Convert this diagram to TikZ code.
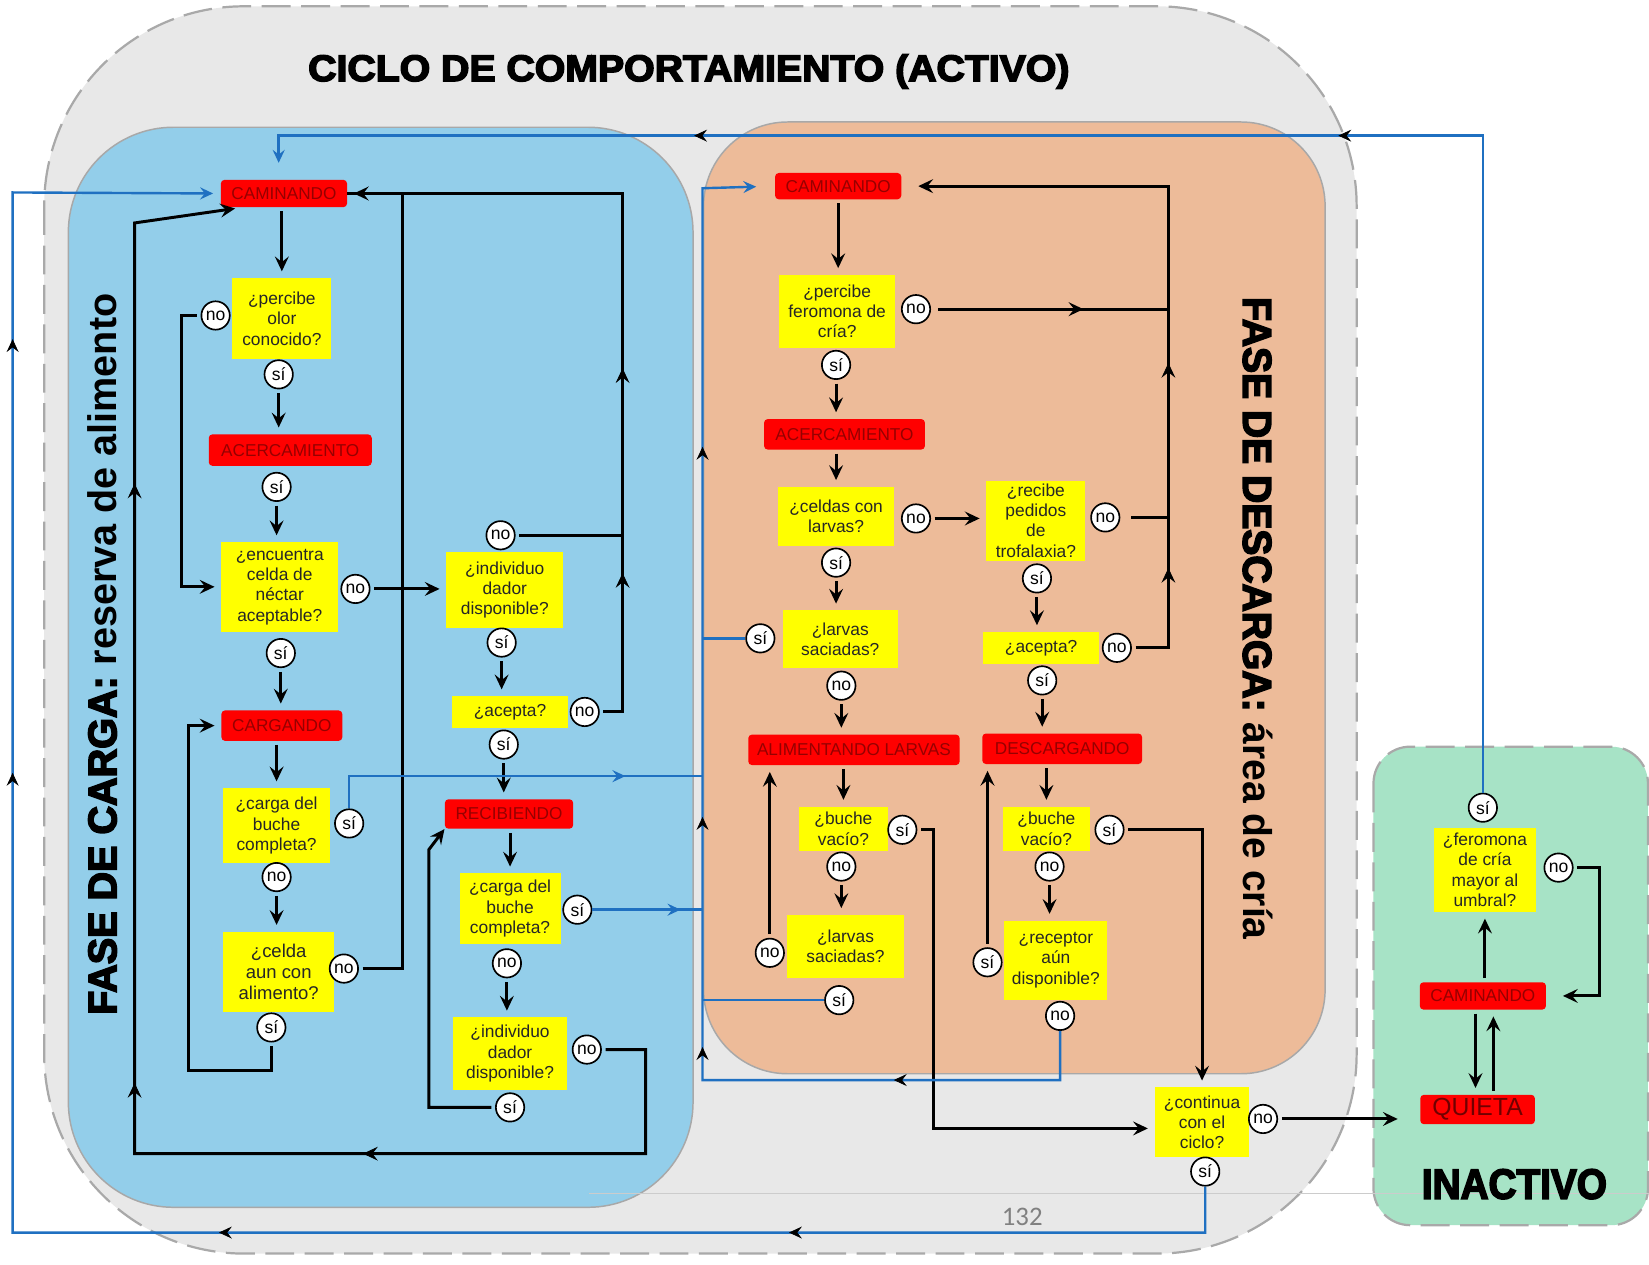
\documentclass[tikz,border=0pt]{standalone}
\usepackage{fontspec}
\usepackage{graphicx}
\setmainfont{Liberation Sans}
\newfontfamily\heavyfont{Liberation Sans}[FakeBold=4, BoldFeatures={FakeBold=4}]
\newfontfamily\pagefont{Carlito}
\usetikzlibrary{arrows.meta,decorations.markings,calc}

\definecolor{cyclegray}{HTML}{E8E8E8}
\definecolor{dashgray}{HTML}{A9A9A9}
\definecolor{panelborder}{HTML}{A8A8A8}
\definecolor{cargablue}{HTML}{93CEEA}
\definecolor{descargaorange}{HTML}{EDBB99}
\definecolor{inactgreen}{HTML}{A7E3C6}
\definecolor{statered}{HTML}{FF0000}
\definecolor{statetext}{HTML}{960000}
\definecolor{quietatext}{HTML}{700000}
\definecolor{qyellow}{HTML}{FFFF00}
\definecolor{qtext}{HTML}{262626}
\definecolor{lineblue}{HTML}{1F70C1}

\tikzset{
  kTip/.tip={Stealth[length=8pt,width=7.5pt,inset=3pt]},
  bTip/.tip={Stealth[length=7pt,width=6.5pt,inset=2.5pt]},
  st/.style 2 args={fill=statered, rounded corners=2pt, text=statetext,
    font=\fontsize{9.3}{10}\selectfont, inner sep=0pt,
    minimum width=#1*0.02cm, minimum height=#2*0.02cm},
  qq/.style 2 args={fill=qyellow, text=qtext, align=center,
    font=\fontsize{9.4}{11}\selectfont, inner sep=0pt,
    minimum width=#1*0.02cm, minimum height=#2*0.02cm},
  ans/.style={circle, draw=black, line width=0.9pt, fill=white, inner sep=0pt,
    minimum size=0.54cm, font=\fontsize{9.5}{10}\selectfont},
  ln/.style={line width=1.6pt, black, shorten <=2pt},
  arr/.style={ln, -{kTip}, shorten >=3.5pt},
  bl/.style={line width=1.3pt, lineblue},
  bla/.style={bl, -{bTip}, shorten >=4pt},
  mk/.style={decorate, decoration={markings,
    mark=at position #1 with {\arrow{kTip}}}},
  mkk/.style 2 args={decorate, decoration={markings,
    mark=at position #1 with {\arrow{kTip}},
    mark=at position #2 with {\arrow{kTip}}}},
  mkb/.style={lineblue, decorate, decoration={markings,
    mark=at position #1 with {\arrow{bTip}}}},
  mkbb/.style 2 args={lineblue, decorate, decoration={markings,
    mark=at position #1 with {\arrow{bTip}},
    mark=at position #2 with {\arrow{bTip}}}},
  mkbbb/.style n args={3}{lineblue, decorate, decoration={markings,
    mark=at position #1 with {\arrow{bTip}},
    mark=at position #2 with {\arrow{bTip}},
    mark=at position #3 with {\arrow{bTip}}}},
}

\begin{document}
\begin{tikzpicture}[x=0.02cm, y=-0.02cm]
\useasboundingbox (0,0) rectangle (1568,1202);
\fill[white] (0,0) rectangle (1568,1202);

% panels
\draw[draw=dashgray, line width=1.2pt, dash pattern=on 0.55cm off 0.2cm,
      fill=cyclegray, rounded corners=3.8cm] (42,6) rectangle (1290,1192);
\draw[draw=panelborder, line width=0.8pt, fill=cargablue, rounded corners=2cm]
      (65,121) rectangle (659,1148);
\draw[draw=panelborder, line width=0.8pt, fill=descargaorange, rounded corners=1.6cm]
      (669,116) rectangle (1260,1021);
\draw[draw=dashgray, line width=1.2pt, dash pattern=on 0.55cm off 0.2cm,
      fill=inactgreen, rounded corners=0.7cm] (1306,710) rectangle (1567,1165);
\draw[gray!40, line width=0.5pt] (560,1135) -- (1568,1135);

% titles
\node (title) at (655,68)
  {\resizebox{14.48cm}{0.51cm}{\heavyfont\bfseries CICLO DE COMPORTAMIENTO (ACTIVO)}};
\node[rotate=90] (fcarga) at (97,622)
  {\resizebox{13.72cm}{0.55cm}{\heavyfont\bfseries FASE DE CARGA: \normalfont\bfseries reserva de alimento}};
\node[rotate=-90] (fdesc) at (1196,588)
  {\resizebox{12.22cm}{0.56cm}{\heavyfont\bfseries FASE DE DESCARGA: \normalfont\bfseries área de cría}};
\node (inact) at (1440,1126)
  {\resizebox{3.52cm}{0.56cm}{\heavyfont\bfseries INACTIVO}};
\node[text=gray, font=\pagefont\fontsize{14.5}{15}\selectfont] (pg) at (972,1157) {132};

% loading phase
\node[st={120}{26}] (cL1) at (270,184) {CAMINANDO};
\node[qq={94}{77}] (q1) at (268,303) {¿percibe\\olor\\conocido?};
\node[ans] (n1) at (205,300) {no};
\node[ans] (s1) at (265,356) {sí};
\node[st={155}{30}] (aL) at (276,428) {ACERCAMIENTO};
\node[ans] (s2) at (263,463) {sí};
\node[qq={111}{85}] (q2) at (266,558) {¿encuentra\\celda de\\néctar\\aceptable?};
\node[ans] (n2) at (338,560) {no};
\node[ans] (s3) at (267,621) {sí};
\node[st={115}{29}] (cg) at (268,690) {CARGANDO};
\node[qq={101}{71}] (q3) at (263,785) {¿carga del\\buche\\completa?};
\node[ans] (s4) at (332,783) {sí};
\node[ans] (n3) at (263,834) {no};
\node[qq={105}{76}, font=\fontsize{10}{11.5}\selectfont] (q4) at (265,924) {¿celda\\aun con\\alimento?};
\node[ans] (n4) at (327,921) {no};
\node[ans] (s5) at (258,977) {sí};
\node[qq={111}{72}] (q5) at (480,561) {¿individuo\\dador\\disponible?};
\node[ans] (n5) at (476,509) {no};
\node[ans] (s6) at (477,611) {sí};
\node[qq={111}{30}] (q6) at (485,677) {¿acepta?};
\node[ans] (n6) at (556,677) {no};
\node[ans] (s7) at (479,708) {sí};
\node[st={122}{28}] (rc) at (484,774) {RECIBIENDO};
\node[qq={96}{67}] (q7) at (485,864) {¿carga del\\buche\\completa?};
\node[ans] (s8) at (549,865) {sí};
\node[ans] (n7) at (482,916) {no};
\node[qq={109}{69}] (q8) at (485,1002) {¿individuo\\dador\\disponible?};
\node[ans] (n8) at (558,998) {no};
\node[ans] (s9) at (485,1053) {sí};

% unloading phase
\node[st={120}{25}] (cR) at (797,177) {CAMINANDO};
\node[qq={111}{69}] (r1) at (796,296) {¿percibe\\feromona de\\cría?};
\node[ans] (rn1) at (871,294) {no};
\node[ans] (rs1) at (795,347) {sí};
\node[st={153}{29}] (aR) at (803,413) {ACERCAMIENTO};
\node[qq={110}{56}] (r2) at (795,491) {¿celdas con\\larvas?};
\node[ans] (rn2) at (871,493) {no};
\node[ans] (rs2) at (795,535) {sí};
\node[qq={94}{76}] (r3) at (985,495) {¿recibe\\pedidos\\de\\trofalaxia?};
\node[ans] (rn3) at (1051,492) {no};
\node[ans] (rs3) at (986,550) {sí};
\node[qq={109}{55}] (r4) at (799,608) {¿larvas\\saciadas?};
\node[ans] (rs4) at (723,607) {sí};
\node[ans] (rn4) at (800,652) {no};
\node[qq={110}{30}] (r5) at (990,616) {¿acepta?};
\node[ans] (rn5) at (1062,616) {no};
\node[ans] (rs5) at (991,647) {sí};
\node[st={201}{29}] (al) at (812,713) {ALIMENTANDO LARVAS};
\node[st={152}{29}] (ds) at (1010,712) {DESCARGANDO};
\node[qq={85}{42}] (r6) at (802,788) {¿buche\\vacío?};
\node[ans] (rs6) at (858,789) {sí};
\node[ans] (rn6) at (800,824) {no};
\node[qq={111}{60}] (r7) at (804,900) {¿larvas\\saciadas?};
\node[ans] (rn7) at (732,906) {no};
\node[ans] (rs7) at (798,951) {sí};
\node[qq={83}{42}] (r8) at (995,788) {¿buche\\vacío?};
\node[ans] (rs8) at (1055,789) {sí};
\node[ans] (rn8) at (998,824) {no};
\node[qq={98}{75}] (r9) at (1004,913) {¿receptor\\aún\\disponible?};
\node[ans] (rs9) at (939,915) {sí};
\node[ans] (rn9) at (1008,966) {no};
\node[qq={90}{66}] (cc) at (1143,1067) {¿continua\\con el\\ciclo?};
\node[ans] (cn) at (1201,1064) {no};
\node[ans] (cs) at (1146,1114) {sí};

% inactive
\node[qq={97}{80}] (g1) at (1412,827) {¿feromona\\de cría\\mayor al\\umbral?};
\node[ans] (gs) at (1410,768) {sí};
\node[ans] (gn) at (1482,825) {no};
\node[st={120}{26}] (cG) at (1410,947) {CAMINANDO};
\node[st={109}{28}, font=\fontsize{13.4}{14}\selectfont, text=quietatext] (qt) at (1405,1055) {QUIETA};

% corner points of the long returns
\coordinate (kA) at (592,677);
\coordinate (kB) at (592,184);
\coordinate (kC) at (614,1097);
\coordinate (kD) at (128,1097);
\coordinate (kE) at (128,212);
\coordinate (kF) at (1111,616);
\coordinate (kG) at (1111,177);
\coordinate (kV) at (668,179);
\coordinate (kW) at (668,1027);
\coordinate (kJ) at (668,738);
\coordinate (kL) at (12,1172);
\coordinate (kM) at (12,183);
\coordinate (kN) at (1409,129);
\coordinate (kO) at (265,129);

% loading phase connectors
\draw[arr] (q1.north |- cL1.south) -- (q1.north);
\draw[arr] (s1.south) -- (s1.south |- aL.north);
\draw[arr] (s2.south) -- (s2.south |- q2.north);
\draw[arr] (s3.south) -- (s3.south |- cg.north);
\draw[arr] (q3.north |- cg.south) -- (q3.north);
\draw[arr] (n3.south) -- (n3.south |- q4.north);
\draw[arr] (n1.west) -- ++(-18,0) |- (q2.west);
\draw[arr] (s5.south) -- ++(0,27) -- ++(-79,0) |- (cg.west);
\draw[arr] (n4.east) -- ++(41,0) |- (cL1.east);
\draw[arr] (n2.east) -- (n2.east -| q5.west);
\draw[ln] (n6.east) -- (kA) -- (kB) -- (cL1.east);
\path[mkk={0.268}{0.663}] (kA) -- (kB);
\draw[ln] (n5.east) -- (n5.east -| kA);
\draw[arr] (s6.south) -- (s6.south |- q6.north);
\draw[arr] (s7.south) -- (s7.south |- rc.north);
\draw[arr] (q7.north |- rc.south) -- (q7.north);
\draw[arr] (n7.south) -- (n7.south |- q8.north);
\draw[arr] (n8.east) -| (kC) -- (kD) -- (kE) -- ([xshift=0.4cm]cL1.south west);
\path[mk={0.553}] (kC) -- (kD);
\path[mkk={0.076}{0.72}] (kD) -- (kE);
\draw[arr, shorten >=0pt] (s9.west) -- ++(-63,0) -- ++(0,-245) -- (rc.south west);

% unloading phase connectors
\draw[arr] (cR.south) -- (cR.south |- r1.north);
\draw[arr] (rs1.south) -- (rs1.south |- aR.north);
\draw[arr] (r2.north |- aR.south) -- (r2.north);
\draw[arr] (rn2.east) -- (rn2.east -| r3.west);
\draw[arr] (rs2.south) -- (rs2.south |- r4.north);
\draw[arr] (rs3.south) -- (rs3.south |- r5.north);
\draw[arr] (rn4.south) -- (rn4.south |- al.north);
\draw[arr] (rs5.south) -- (rs5.south |- ds.north);
\draw[arr] (r6.north |- al.south) -- (r6.north);
\draw[arr] (rn6.south) -- (rn6.south |- r7.north);
\draw[arr] (r8.north |- ds.south) -- (r8.north);
\draw[arr] (rn8.south) -- (rn8.south |- r9.north);
\draw[arr, shorten >=9pt] (rn5.east) -- (kF) -- (kG) -- (cR.east);
\path[mkk={0.173}{0.617}] (kF) -- (kG);
\draw[ln, shorten <=4pt, postaction={mk=0.642}] (rn1.east) -- (rn1.east -| kF);
\draw[ln, shorten <=6pt] (rn3.east) -- (rn3.east -| kF);
\draw[arr] (rs6.east) -- ++(15.5,0) |- ([yshift=-0.12cm]cc.west);
\draw[arr] (rn7.north) -- (rn7.north |- al.south);
\draw[arr] (rs8.east) -| (cc.north);
\draw[arr] (rs9.north) -- (rs9.north |- ds.south);
\draw[arr, shorten >=12pt] (cn.east) -- (cn.east -| qt.west);

% inactive connectors
\draw[arr] (cG.north -| g1.south) -- (g1.south);
\draw[arr, shorten >=9pt] (gn.east) -- ++(25,0) |- (cG.east);
\draw[arr] ([xshift=-0.14cm]cG.south) -- ([xshift=-0.14cm]cG.south |- qt.north);
\draw[arr] ([xshift=0.3cm]qt.north) -- ([xshift=0.3cm]qt.north |- cG.south);

% blue transfers between phases
\draw[bla, shorten >=10pt] (rn9.south) |- (kW) -- (kV) -- (cR.west);
\path[mkb={0.465}] (rn9.south |- kW) -- (kW);
\path[mkbbb={0.037}{0.295}{0.71}] (kW) -- (kV);
\draw[bl] (rs4.west) -- (rs4.west -| kV);
\draw[bl] (rs7.west) -- (rs7.west -| kV);
\draw[bl, postaction={mkb=0.8}] (s8.east) -- (s8.east -| kV);
\draw[bl, postaction={mkb=0.8}] (s4.north) |- (kJ);
\draw[bla] (cs.south) |- (kL) -- (kM) -- (cL1.west);
\path[mkbb={0.349}{0.827}] (cs.south |- kL) -- (kL);
\path[mkbb={0.442}{0.859}] (kL) -- (kM);
\draw[bla, shorten >=9pt] (gs.north) |- (kO) -- (cL1.north -| kO);
\path[mkbb={0.12}{0.655}] (gs.north |- kN) -- (kO);
\end{tikzpicture}
\end{document}
